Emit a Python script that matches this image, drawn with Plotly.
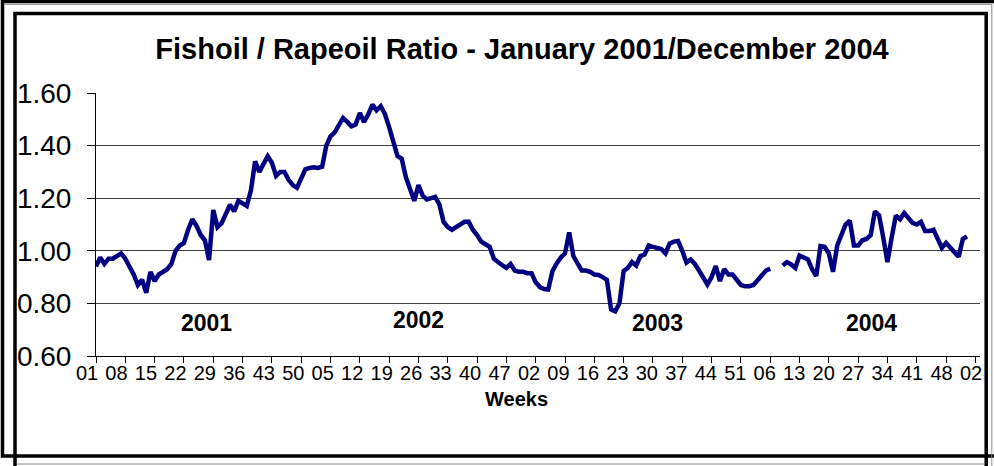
import plotly.graph_objects as go

# ---------------- data ----------------
week_labels = ["01", "08", "15", "22", "29", "36", "43", "50", "05", "12", "19",
               "26", "33", "40", "47", "02", "09", "16", "23", "30", "37", "44",
               "51", "06", "13", "20", "27", "34", "41", "48", "02"]

years = ["2001", "2002", "2003", "2004"]

ratio_2001 = [0.94, 0.975, 0.95, 0.97, 0.97, 0.98, 0.99, 0.97, 0.94, 0.91,
              0.87, 0.89, 0.84, 0.92, 0.885, 0.91, 0.92, 0.93, 0.95, 1.00,
              1.02, 1.03, 1.08, 1.12, 1.095, 1.06, 1.04, 0.965, 1.155, 1.09,
              1.105, 1.145, 1.175, 1.15, 1.19, 1.18, 1.17, 1.23, 1.34, 1.30,
              1.33, 1.36, 1.335, 1.285, 1.30, 1.30, 1.27, 1.25, 1.24, 1.28,
              1.31, 1.315]

ratio_2002 = [1.318, 1.315, 1.32, 1.40, 1.435, 1.45, 1.475, 1.505, 1.49, 1.473,
              1.48, 1.524, 1.49, 1.518, 1.556, 1.534, 1.55, 1.52, 1.47, 1.41,
              1.36, 1.35, 1.28, 1.235, 1.19, 1.25, 1.21, 1.195, 1.20, 1.205,
              1.176, 1.11, 1.09, 1.08, 1.09, 1.10, 1.11, 1.11, 1.08, 1.06,
              1.035, 1.025, 1.015, 0.97, 0.955, 0.945, 0.935, 0.95, 0.925, 0.92,
              0.92, 0.915]

ratio_2003 = [0.915, 0.88, 0.862, 0.855, 0.853, 0.923, 0.952, 0.975, 0.99, 1.07,
              0.98, 0.95, 0.925, 0.925, 0.92, 0.91, 0.908, 0.90, 0.89, 0.777,
              0.77, 0.80, 0.923, 0.935, 0.957, 0.944, 0.98, 0.986, 1.02, 1.015,
              1.012, 1.007, 0.99, 1.028, 1.035, 1.037, 1.00, 0.955, 0.967, 0.95,
              0.925, 0.90, 0.872, 0.90, 0.942, 0.885, 0.93, 0.91, 0.91, 0.89,
              0.87, 0.865]

ratio_2004 = [0.865, 0.87, 0.89, 0.91, 0.925, 0.932, None, None, 0.944, 0.957,
              0.948, 0.935, 0.982, 0.975, 0.967, 0.93, 0.904, 1.018, 1.015, 0.99,
              0.92, 1.02, 1.06, 1.10, 1.115, 1.02, 1.02, 1.04, 1.045, 1.06,
              1.15, 1.135, 1.05, 0.957, 1.05, 1.134, 1.12, 1.144, 1.125, 1.106,
              1.10, 1.11, 1.075, 1.075, 1.08, 1.05, 1.011, 1.03, 1.012, 0.99,
              0.977, 1.045, 1.055]

ratio = ratio_2001 + ratio_2002 + ratio_2003 + ratio_2004
week_index = list(range(len(ratio)))
tick_positions = list(range(0, 7 * len(week_labels), 7))

# ---------------- layout helpers ----------------
W, H = 994, 466
ML, MR, MT, MB = 96, 14, 93, 110
PW, PH = W - ML - MR, H - MT - MB


def px(xp):
    return (xp - ML) / PW


def py(yp):
    return (H - MB - yp) / PH


FONT = "Arial, Liberation Sans, sans-serif"

fig = go.Figure()
fig.add_trace(go.Scatter(
    x=week_index, y=ratio, mode="lines",
    line=dict(color="#000080", width=4.5),
    connectgaps=False, hoverinfo="skip", showlegend=False,
))
# invisible companion trace so the label axis (x2) is drawn
fig.add_trace(go.Scatter(
    x=week_index, y=ratio, mode="lines", xaxis="x2", yaxis="y",
    line=dict(color="rgba(0,0,0,0)", width=0), opacity=0,
    hoverinfo="skip", showlegend=False,
))

# year labels
year_pos = [(26.5, 0.727), (76.9, 0.737), (134.2, 0.727), (185.2, 0.727)]
for label, (xx, yy) in zip(years, year_pos):
    fig.add_annotation(x=xx, y=yy, xref="x", yref="y", text=label,
                       showarrow=False, xanchor="center", yanchor="middle",
                       font=dict(family=FONT, size=23, color="black", weight="bold"))

# axis title "Weeks"
fig.add_annotation(x=px(516.7), y=py(399), xref="paper", yref="paper",
                   text="Weeks", showarrow=False, xanchor="center", yanchor="middle",
                   font=dict(family=FONT, size=20, color="black", weight="bold"))

# double frame
shapes = [
    dict(type="rect", x0=px(2.5), y0=py(1.5), x1=px(1010), y1=py(456),
         line=dict(color="black", width=3.5)),
    dict(type="line", x0=px(4.5), y0=py(4.3), x1=px(991.8), y1=py(4.3),
         line=dict(color="#8a8a8a", width=1)),
    dict(type="line", x0=px(991.8), y0=py(4.3), x1=px(991.8), y1=py(470),
         line=dict(color="#8a8a8a", width=1)),
    dict(type="rect", x0=px(15), y0=py(13.5), x1=px(986.2), y1=py(480),
         line=dict(color="black", width=3.5)),
    dict(type="line", x0=px(16.7), y0=py(464), x1=px(984.5), y1=py(464),
         line=dict(color="#8a8a8a", width=1)),
]
for s in shapes:
    s.update(xref="paper", yref="paper", layer="above")

fig.update_layout(
    width=W, height=H,
    margin=dict(l=ML, r=MR, t=MT, b=MB),
    paper_bgcolor="white", plot_bgcolor="white",
    shapes=shapes,
    title=dict(text="Fishoil / Rapeoil Ratio - January 2001/December 2004",
               x=522 / W, xanchor="center", xref="container",
               y=1 - 48.8 / H, yanchor="middle", yref="container",
               font=dict(family=FONT, size=29, color="black", weight="bold")),
    xaxis=dict(range=[0, 211.1], tickvals=tick_positions, showticklabels=False,
               showgrid=False, zeroline=False, showline=True, linecolor="black",
               linewidth=1, ticks="outside", ticklen=6, tickcolor="black",
               tickwidth=1, fixedrange=True),
    xaxis2=dict(range=[-0.001, 210.001], overlaying="x", anchor="y",
                side="bottom", tickvals=tick_positions, ticktext=week_labels,
                showgrid=False, zeroline=False, showline=False, ticks="outside",
                ticklen=6, tickcolor="rgba(0,0,0,0)", ticklabelstandoff=-7,
                ticklabelshift=-9,
                tickfont=dict(family=FONT, size=20, color="black"),
                fixedrange=True),
    yaxis=dict(range=[0.6, 1.6], dtick=0.2, tick0=0.6, tickformat=".2f",
               showgrid=True, gridcolor="#404040", gridwidth=1,
               zeroline=False, showline=True, linecolor="black", linewidth=1,
               ticks="outside", ticklen=8, tickcolor="black", tickwidth=1,
               ticklabelstandoff=10,
               tickfont=dict(family=FONT, size=28, color="black"),
               fixedrange=True),
)

fig.write_html("out.html",
               config={"displayModeBar": False, "staticPlot": True},
               post_script="document.body.style.margin='0';"
                           "document.body.style.overflow='hidden';")
